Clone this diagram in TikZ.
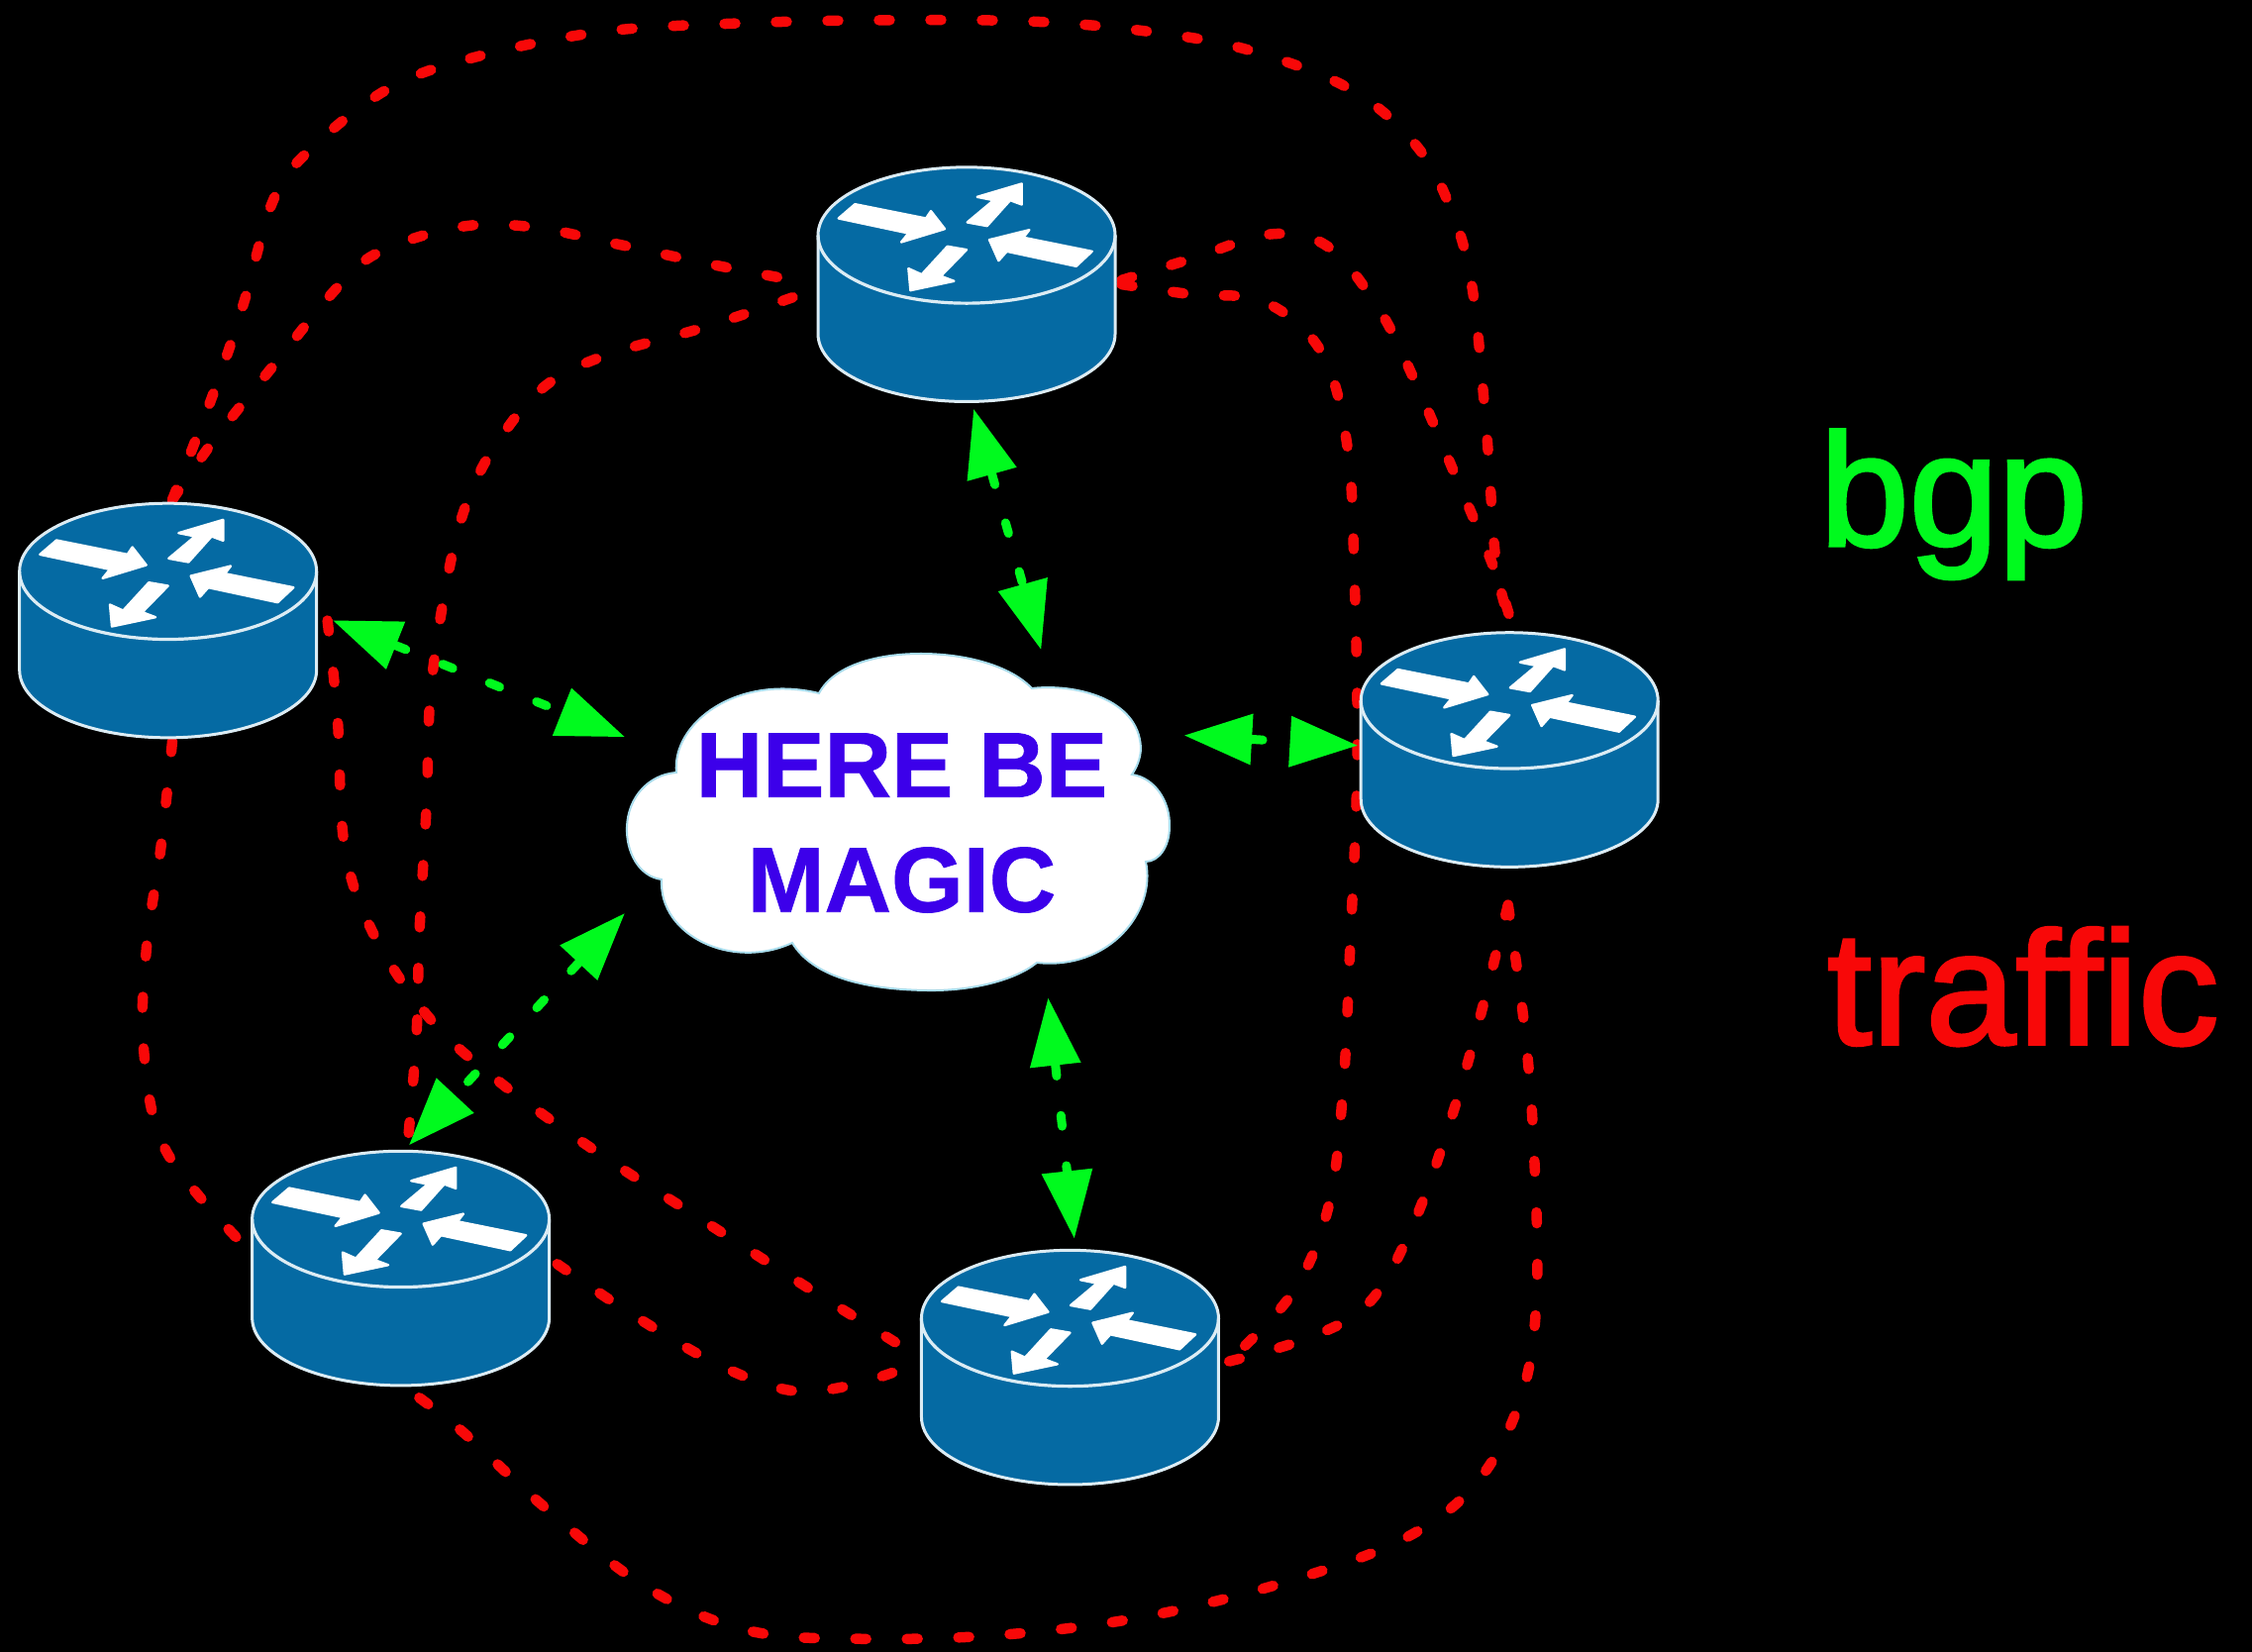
\documentclass[tikz,border=0pt]{standalone}
\usepackage{fontspec}
\setmainfont{Liberation Sans}
\newfontfamily\labelfont{Liberation Sans}[Ligatures=NoCommon,FakeBold=2]
\newfontfamily\magicfont{Liberation Sans Bold}[FakeBold=0.8]
\usetikzlibrary{arrows.meta,calc}
\definecolor{routerblue}{HTML}{056AA3}
\definecolor{routerline}{HTML}{DCECF4}
\definecolor{cloudline}{HTML}{A8DCEC}
\definecolor{bgpgreen}{HTML}{00FA1E}
\definecolor{trafficred}{HTML}{F80808}
\definecolor{magicblue}{HTML}{3C00EA}
\tikzset{
  routerbox/.style={inner sep=0pt,minimum width=300pt,minimum height=237pt},
  traffic/.style={draw=trafficred,line width=10.5pt,line cap=round,dash pattern=on 11pt off 41pt},
  bgp/.style={draw=bgpgreen,line width=9pt,line cap=round,dash pattern=on 11pt off 40pt,
    {Triangle[length=68pt,width=52pt,line width=0pt]}-{Triangle[length=68pt,width=52pt,line width=0pt]}},
  routerarrow/.style={fill=white,draw=white,line width=2.4pt,line join=round},
  pics/router/.style={code={
    \begin{scope}[x=.33333pt,y=-.33333pt,shift={(-528,-440)}]
      \filldraw[fill=routerblue,draw=routerline,line width=3pt]
        (78,291) -- (78,590) arc[start angle=180,end angle=0,x radius=450,y radius=205]
        -- (978,291) arc[start angle=0,end angle=-180,x radius=450,y radius=206] -- cycle;
      \draw[routerline,line width=3.2pt] (78,291) arc[start angle=180,end angle=0,x radius=450,y radius=206];
      \filldraw[routerarrow] (190,197) -- (405,240) -- (420,218) -- (462,272) -- (330,312) -- (352,285) -- (140,240) -- cycle;
      \filldraw[routerarrow] (530,252) -- (610,185) -- (560,175) -- (695,135) -- (695,198) -- (660,185) -- (590,263) -- cycle;
      \filldraw[routerarrow] (908,340) -- (860,385) -- (650,340) -- (625,368) -- (597,305) -- (718,275) -- (700,298) -- cycle;
      \filldraw[routerarrow] (470,325) -- (528,335) -- (450,415) -- (490,430) -- (358,458) -- (352,392) -- (392,410) -- cycle;
    \end{scope}
  }}
}
\begin{document}
\begin{tikzpicture}[x=1.4503pt,y=-1.4503pt]
\useasboundingbox (0,0) rectangle (1568,1150);
\fill[black] (0,0) rectangle (1568,1150);
% router anchors
\node[routerbox] (rt) at (673,198) {};
\node[routerbox] (rl) at (117,432) {};
\node[routerbox] (rr) at (1051,522) {};
\node[routerbox] (rb) at (279,883) {};
\node[routerbox] (rm) at (745,952) {};
% traffic ports
\coordinate (rlN) at ($(rl.center)+(3,-84)$);
\coordinate (rlE) at ($(rl.center)+(111,0)$);
\coordinate (rlS) at ($(rl.center)+(3,84)$);
\coordinate (rtW1) at ($(rt.center)+(-121,-3)$);
\coordinate (rtW2) at ($(rt.center)+(-121,9)$);
\coordinate (rtE1) at ($(rt.center)+(108,-3)$);
\coordinate (rtE2) at ($(rt.center)+(108,0)$);
\coordinate (rrN) at ($(rr.center)+(2,-86)$);
\coordinate (rrS) at ($(rr.center)+(-1,108)$);
\coordinate (rbN) at ($(rb.center)+(5,-88)$);
\coordinate (rbW) at ($(rb.center)+(-112,-19)$);
\coordinate (rbE) at ($(rb.center)+(109,-3)$);
\coordinate (rbS) at ($(rb.center)+(3,83)$);
\coordinate (rmW1) at ($(rm.center)+(-116,-14)$);
\coordinate (rmW2) at ($(rm.center)+(-116,1)$);
\coordinate (rmE) at ($(rm.center)+(110,-4)$);
% traffic lines
\draw[traffic] plot[smooth,tension=.6] coordinates {(rlN) (150,270) (170,210) (190,140) (215,105) (270,62) (330,40) (420,22) (520,16) (620,14) (720,15) (800,22) (870,35) (940,62) (985,100) (1010,145) (1025,200) (1035,300) (1042,395) (rrN)};
\draw[traffic] plot[smooth,tension=.6] coordinates {(rlN) (150,305) (190,255) (235,200) (265,175) (320,158) (370,158) (430,170) (490,183) (rtW1)};
\draw[traffic] plot[smooth,tension=.6] coordinates {(rtW2) (490,228) (420,248) (378,270) (345,310) (325,350) (312,400) (300,480) (297,560) (292,650) (290,720) (rbN)};
\draw[traffic] plot[smooth,tension=.6] coordinates {(rtE1) (830,180) (885,163) (925,172) (960,215) (985,265) (1015,335) (1040,395) (rrN)};
\draw[traffic] plot[smooth,tension=.6] coordinates {(rtE2) (830,205) (880,210) (920,245) (938,310) (943,400) (945,530) (940,660) (935,760) (925,840) (900,900) (rmE)};
\draw[traffic] plot[smooth,tension=.6] coordinates {(rlE) (235,500) (240,590) (260,650) (300,710) (350,755) (420,805) (490,850) (560,895) (rmW1)};
\draw[traffic] plot[smooth,tension=.6] coordinates {(rlS) (112,590) (102,660) (100,730) (115,800) (rbW)};
\draw[traffic] plot[smooth,tension=.6] coordinates {(rbE) (440,915) (500,950) (550,968) (590,965) (rmW2)};
\draw[traffic] plot[smooth,tension=.6] coordinates {(rrS) (1030,710) (1010,780) (985,850) (955,905) (915,930) (rmE)};
\draw[traffic] plot[smooth,tension=.6] coordinates {(rrS) (1062,720) (1068,800) (1070,900) (1060,970) (1030,1030) (980,1070) (900,1100) (800,1125) (700,1138) (600,1141) (520,1135) (450,1105) (380,1050) (320,995) (rbS)};
% routers
\pic at (rt.center) {router};
\pic at (rl.center) {router};
\pic at (rr.center) {router};
\pic at (rb.center) {router};
\pic at (rm.center) {router};
% cloud (outline in full-size pixels)
\begin{scope}[x=1pt,y=-1pt]
\filldraw[fill=white,draw=cloudline,line width=2pt]
  (827,700) .. controls (842,672) and (885,660) .. (930,660)
  .. controls (975,660) and (1020,672) .. (1042,695)
  .. controls (1085,690) and (1150,705) .. (1152,755)
  .. controls (1152,765) and (1148,775) .. (1143,782)
  .. controls (1165,785) and (1182,808) .. (1181,835)
  .. controls (1181,855) and (1170,870) .. (1157,870)
  .. controls (1168,920) and (1120,980) .. (1047,972)
  .. controls (1025,990) and (980,1001) .. (935,1000)
  .. controls (870,999) and (820,985) .. (800,952)
  .. controls (740,980) and (665,945) .. (668,888)
  .. controls (645,885) and (632,860) .. (633,835)
  .. controls (634,805) and (655,782) .. (683,780)
  .. controls (678,730) and (745,680) .. (827,700) -- cycle;
\end{scope}
\node[inner sep=0pt,align=center,text=magicblue,font=\magicfont\fontsize{93.5}{116}\selectfont] (cloud) at (627.8,573) {HERE BE\\MAGIC};
% bgp ports
\coordinate (rtG) at ($(rt.center)+(5,87)$);
\coordinate (clN) at ($(cloud.center)+(97,-121)$);
\coordinate (rlG) at ($(rl.center)+(115,0)$);
\coordinate (clW) at ($(cloud.center)+(-193,-60)$);
\coordinate (clE) at ($(cloud.center)+(197,-61)$);
\coordinate (rrG) at ($(rr.center)+(-106,-3)$);
\coordinate (clSW) at ($(cloud.center)+(-193,63)$);
\coordinate (rbG) at ($(rb.center)+(6,-86)$);
\coordinate (clS) at ($(cloud.center)+(102,122)$);
\coordinate (rmG) at ($(rm.center)+(3,-90)$);
% bgp arrows
\draw[bgp] (rtG) -- (clN);
\draw[bgp] (rlG) -- (clW);
\draw[bgp] (clE) -- (rrG);
\draw[bgp] (clSW) -- (rbG);
\draw[bgp] (clS) -- (rmG);
% legend
\node[inner sep=0pt,anchor=base west,text=bgpgreen,font=\labelfont\fontsize{162}{162}\selectfont] (lgbgp) at (1267,380) {bgp};
\node[inner sep=0pt,anchor=base west,text=trafficred,font=\labelfont\fontsize{163}{163}\selectfont] (lgtraffic) at (1272,727) {traffic};
\end{tikzpicture}
\end{document}
